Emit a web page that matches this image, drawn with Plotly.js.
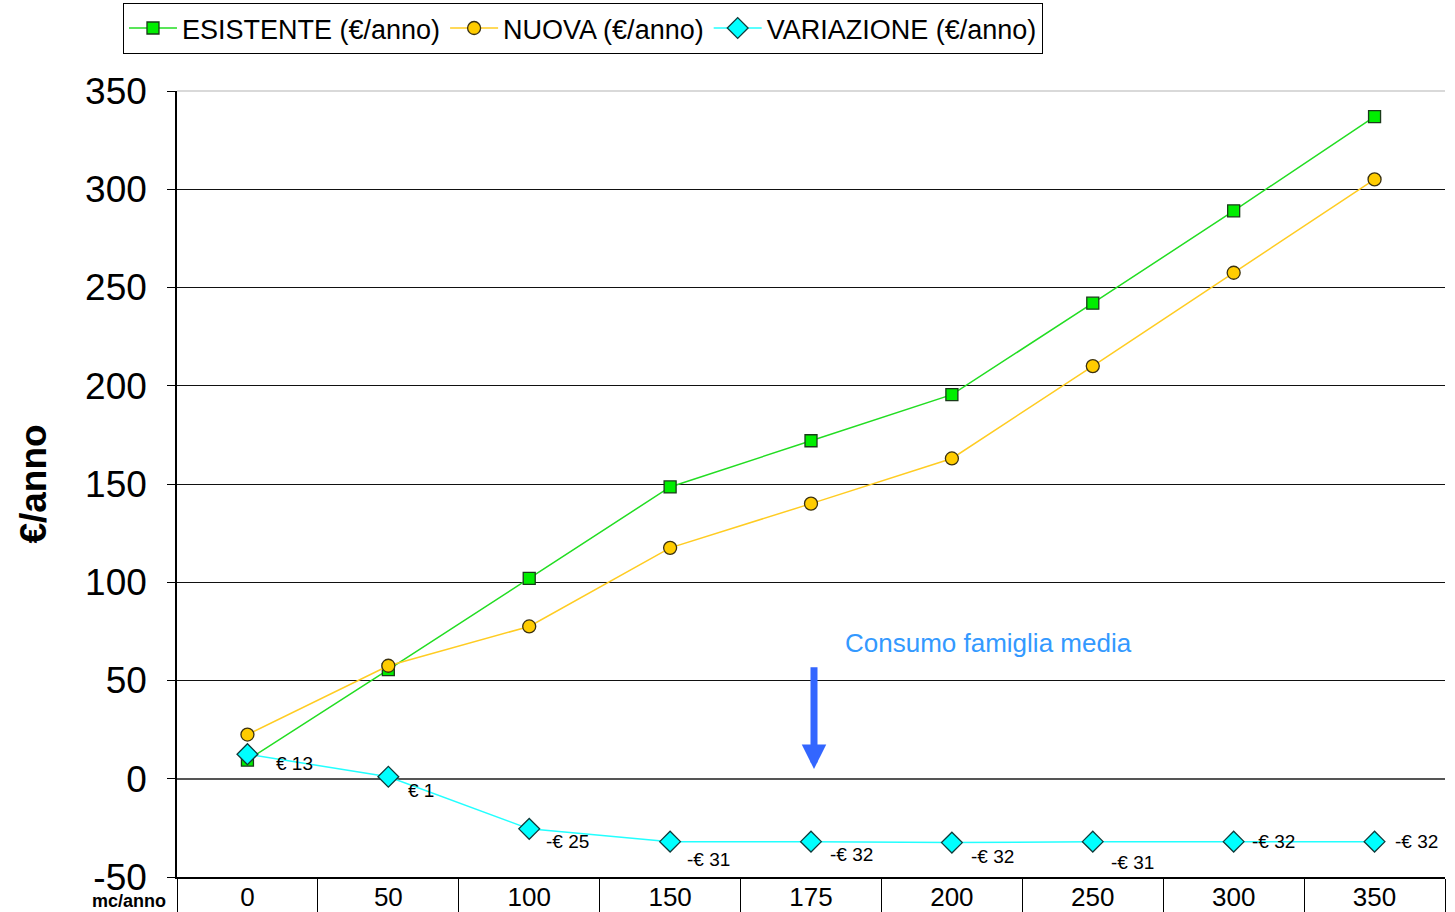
<!DOCTYPE html>
<html><head><meta charset="utf-8">
<script src="https://cdn.plot.ly/plotly-3.0.1.min.js"></script>
<style>body{margin:0;background:#fff}#chart{width:1455px;height:912px}</style>
</head><body><div id="chart"></div>
<script>
// ---- data ----
const categories = ['0', '50', '100', '150', '175', '200', '250', '300', '350'];
const esistente = [9.5, 55.5, 102, 148.5, 172, 195.5, 242, 289, 337];
const nuova = [22.5, 57.5, 77.5, 117.5, 140, 163, 210, 257.5, 305];
const variazione = [12.5, 1, -25.5, -32, -32, -32.5, -32, -32, -32];
const variazioneLabels = ['€ 13', '€ 1', '-€ 25', '-€ 31', '-€ 32', '-€ 32', '-€ 31', '-€ 32', '-€ 32'];
const yTicks = [-50, 0, 50, 100, 150, 200, 250, 300, 350];
const mediaCategory = '175';

// ---- style (label offsets in px) ----
const labelDx = [27, 18, 15, 15, 17, 17, 16, 16, 18];
const labelDy = [-9, -14, -13, -18, -13, -14, -21, 0, 0];

const FONT = 'Liberation Sans, Arial, sans-serif';

const traces = [
  {
    x: categories, y: esistente, name: 'ESISTENTE (€/anno)', mode: 'lines+markers',
    line: {color: '#22dd22', width: 1.5},
    marker: {symbol: 'square', size: 12, color: '#00ee00', line: {color: '#1a3a1a', width: 1.3}}
  },
  {
    x: categories, y: nuova, name: 'NUOVA (€/anno)', mode: 'lines+markers',
    line: {color: '#ffcc22', width: 1.5},
    marker: {symbol: 'circle', size: 13, color: '#ffcc00', line: {color: '#3a3010', width: 1.3}}
  },
  {
    x: categories, y: variazione, name: 'VARIAZIONE (€/anno)', mode: 'lines+markers',
    line: {color: '#22ffff', width: 1.5},
    marker: {symbol: 'diamond', size: 16, color: '#00ffff', line: {color: '#103a3a', width: 1.3}}
  }
];

// annotations on a category axis use the category index
const annotations = variazioneLabels.map((t, i) => ({
  x: i, y: variazione[i], xref: 'x', yref: 'y', text: t, showarrow: false,
  xanchor: 'left', yanchor: 'middle', xshift: labelDx[i], yshift: labelDy[i],
  font: {family: FONT, size: 19, color: '#000'}
}));

annotations.push({
  xref: 'paper', yref: 'y', x: 0.6396, y: 69, text: 'Consumo famiglia media', showarrow: false,
  xanchor: 'center', yanchor: 'middle', font: {family: FONT, size: 26, color: '#3399ff'}
});
annotations.push({
  xref: 'x', yref: 'y', x: categories.indexOf(mediaCategory), y: 5,
  axref: 'pixel', ayref: 'y', ax: 0, ay: 57.5, xshift: 3,
  text: '', showarrow: true, arrowhead: 2, arrowsize: 0.7, arrowwidth: 7, arrowcolor: '#3366ff'
});
annotations.push({
  xref: 'paper', yref: 'paper', x: -0.0071, y: -0.03, text: '<b>mc/anno</b>', showarrow: false,
  xanchor: 'right', yanchor: 'middle', font: {family: FONT, size: 18, color: '#000'}
});

const layout = {
  width: 1455, height: 912,
  margin: {l: 177, r: 10, t: 91, b: 35, autoexpand: false},
  paper_bgcolor: '#fff', plot_bgcolor: '#fff',
  font: {family: FONT, color: '#000'},
  showlegend: true,
  legend: {
    orientation: 'h', x: -0.0426, xanchor: 'left', y: 1.112, yanchor: 'top',
    bgcolor: '#fff', bordercolor: '#000', borderwidth: 1,
    font: {family: FONT, size: 27, color: '#000'}, itemwidth: 48, tracegroupgap: 0
  },
  xaxis: {
    type: 'category', categoryorder: 'array', categoryarray: categories,
    range: [-0.5, categories.length - 0.5], autorange: false,
    showgrid: false, zeroline: false,
    showline: true, linecolor: '#000', linewidth: 1.5,
    ticks: 'outside', tickson: 'boundaries', ticklen: 40, tickcolor: '#000', tickwidth: 1,
    ticklabelstandoff: -4,
    tickfont: {family: FONT, size: 26, color: '#000'}
  },
  yaxis: {
    range: [-50, 350], autorange: false, tickvals: yTicks, ticktext: yTicks.map(String),
    showgrid: true, gridcolor: '#111', gridwidth: 1,
    zeroline: true, zerolinecolor: '#555', zerolinewidth: 1.5,
    showline: true, linecolor: '#000', linewidth: 1.5,
    ticks: 'outside', ticklen: 8, tickcolor: '#000', tickwidth: 1,
    ticklabelstandoff: 13,
    tickfont: {family: FONT, size: 37, color: '#000'},
    title: {text: '<b>€/anno</b>', font: {family: FONT, size: 37, color: '#000'}, standoff: 27}
  },
  shapes: [
    {type: 'line', xref: 'paper', yref: 'paper', x0: 0, x1: 1, y0: 1, y1: 1,
     line: {color: '#cccccc', width: 1.5}, layer: 'above'}
  ],
  annotations: annotations
};

Plotly.newPlot('chart', traces, layout, {displayModeBar: false, responsive: false});
</script>
</body></html>
